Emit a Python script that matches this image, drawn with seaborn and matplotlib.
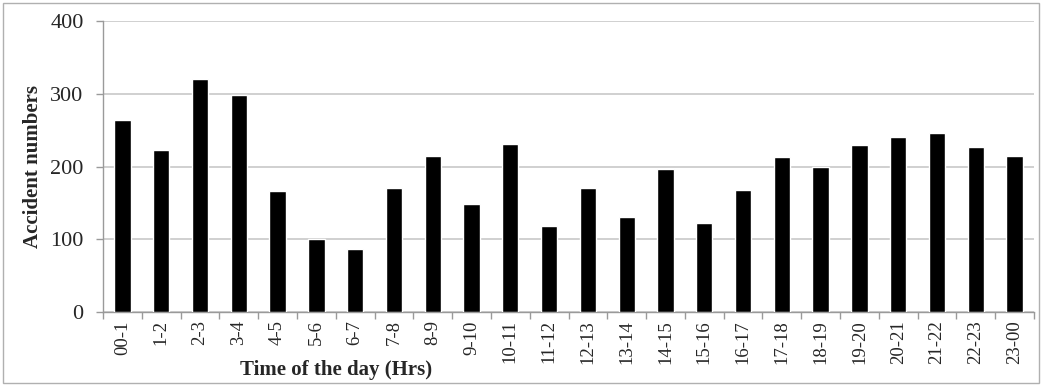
import matplotlib
matplotlib.use("Agg")
import matplotlib.pyplot as plt
import seaborn as sns
import pandas as pd
import numpy as np
from matplotlib.patches import Rectangle

hours = ["00-1", "1-2", "2-3", "3-4", "4-5", "5-6", "6-7", "7-8", "8-9", "9-10",
         "10-11", "11-12", "12-13", "13-14", "14-15", "15-16", "16-17", "17-18",
         "18-19", "19-20", "20-21", "21-22", "22-23", "23-00"]
accidents = [264, 222, 320, 298, 166, 100, 86, 171, 215, 148,
             231, 118, 170, 131, 196, 123, 168, 213,
             199, 229, 241, 246, 227, 215]
yticks = [0, 100, 200, 300, 400]

sns.set_theme(style="white")
plt.rcParams['font.family'] = ['Liberation Serif', 'DejaVu Serif']

df = pd.DataFrame({"hour": hours, "n": accidents})

fig = plt.figure(figsize=(10.42, 3.85), dpi=100)
ax = fig.add_axes([103/1042, 1 - 312/385, (1034-103)/1042, (312-21)/385])

sns.barplot(data=df, x="hour", y="n", color="black", width=0.42,
            saturation=1, ax=ax, zorder=3)

ax.set_ylim(0, 400)
ax.set_xlim(-0.5, len(hours) - 0.5)
ax.set_yticks(yticks)
ax.set_yticklabels([str(v) for v in yticks], fontsize=16)
ax.yaxis.grid(True, color="#c8c8c8", linewidth=1.2, zorder=0)
ax.set_axisbelow(True)

ax.set_xticks(range(len(hours)))
ax.set_xticklabels(hours, rotation=90, fontsize=13.5)
ax.tick_params(axis="x", which="major", length=0, pad=6)
ax.set_xticks(np.arange(-0.5, len(hours), 1.0), minor=True)
ax.tick_params(axis="x", which="minor", length=5, color="#9a9a9a", width=1,
               bottom=True, direction="out")
ax.tick_params(axis="y", length=5, color="#9a9a9a", width=1, left=True, pad=9)

for s in ["top", "right"]:
    ax.spines[s].set_visible(False)
for s in ["left", "bottom"]:
    ax.spines[s].set_color("#9a9a9a")
    ax.spines[s].set_linewidth(1)

ax.set_xlabel("Time of the day (Hrs)", fontsize=15, fontweight="bold")
ax.set_ylabel("Accident numbers", fontsize=15, fontweight="bold")
ax.xaxis.set_label_coords((336 - 103) / (1034 - 103), -(375 - 312) / (312 - 21),
                          transform=ax.transAxes)
ax.xaxis.label.set_va("baseline")
ax.yaxis.set_label_coords(-(103 - 38) / (1034 - 103), 0.5)
ax.yaxis.label.set_va("baseline")

fig.patches.append(Rectangle((3/1042, 2/385), 1036/1042, 380/385, transform=fig.transFigure,
                             fill=False, edgecolor="#b0b0b0", linewidth=1))

fig.savefig("out.png", dpi=100)
